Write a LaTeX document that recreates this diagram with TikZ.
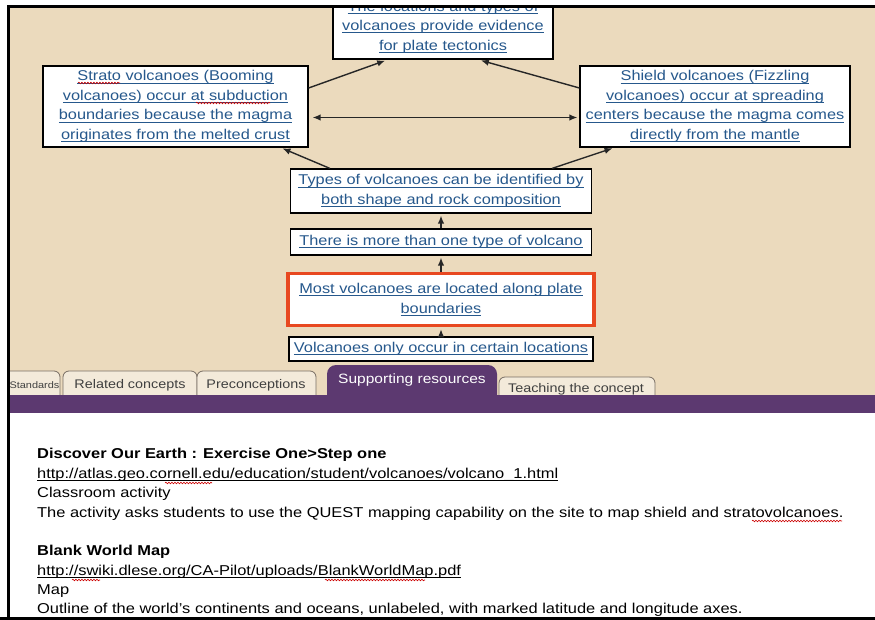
\documentclass[tikz,border=0pt]{standalone}
\usepackage{fontspec}
\setmainfont{Liberation Sans}[FakeStretch=1.15]
\usetikzlibrary{arrows.meta,decorations.pathmorphing}
\definecolor{beige}{RGB}{235,218,189}
\definecolor{purp}{RGB}{92,57,112}
\definecolor{linkblue}{RGB}{38,88,140}
\definecolor{hl}{RGB}{232,72,32}
\definecolor{tabfill}{RGB}{243,234,218}
\definecolor{tabline}{RGB}{120,110,100}
\newcommand{\lnk}[1]{\setbox0\hbox{#1}\rlap{\rule[-2.6pt]{\wd0}{0.9pt}}\box0}
\begin{document}
\begin{tikzpicture}[x=1pt,y=-1pt,
  concept/.style={draw=black, line width=1.2pt, fill=white, text=linkblue, align=center,
    inner sep=0pt, font=\fontsize{14.2}{19.5}\selectfont},
  keynode/.style={concept, draw=hl, line width=3.5pt},
  link/.style={-{Latex[length=8pt,width=6.5pt]}, line width=1.4pt, draw=black!85, shorten >=2pt},
  twoway/.style={{Latex[length=8pt,width=6.5pt]}-{Latex[length=8pt,width=6.5pt]}, line width=1.4pt, draw=black!85, shorten >=2pt, shorten <=4pt},
  tabshape/.style={draw=tabline, line width=0.8pt, fill=tabfill, rounded corners=6pt},
  tabtext/.style={text=black!75, font=\fontsize{12.5}{14}\selectfont, inner sep=0pt},
  res/.style={anchor=base west, inner sep=0pt, font=\fontsize{14.3}{19.5}\selectfont},
  resbold/.style={res, font=\fontsize{14.3}{19.5}\selectfont\bfseries},
  reslink/.style={res, text=black},
  spell/.style={draw=red!80!black, line width=0.6pt, decorate, decoration={snake, amplitude=0.8pt, segment length=3pt}}
]
\useasboundingbox (0,0) rectangle (875,620);
\fill[white] (0,0) rectangle (875,620);
\begin{scope}
\clip (8,7) rectangle (875,618);
\fill[beige] (0,0) rectangle (875,395);

% concept nodes
\node[concept, minimum width=220pt, minimum height=64pt] (n1) at (443,27)
  {\lnk{The locations and types of}\\\lnk{volcanoes provide evidence}\\\lnk{for plate tectonics}};
\node[concept, minimum width=265pt, minimum height=81pt] (n2) at (175.5,106.5)
  {\lnk{Strato volcanoes (Booming}\\\lnk{volcanoes) occur at subduction}\\\lnk{boundaries because the magma}\\\lnk{originates from the melted crust}};
\node[concept, minimum width=270pt, minimum height=81pt] (n3) at (715,106.5)
  {\lnk{Shield volcanoes (Fizzling}\\\lnk{volcanoes) occur at spreading}\\\lnk{centers because the magma comes}\\\lnk{directly from the mantle}};
\node[concept, minimum width=301pt, minimum height=44pt] (n4) at (441,191)
  {\lnk{Types of volcanoes can be identified by}\\\lnk{both shape and rock composition}};
\node[concept, minimum width=301pt, minimum height=26pt] (n5) at (441,242)
  {\lnk{There is more than one type of volcano}};
\node[keynode, minimum width=306pt, minimum height=52pt] (n6) at (441,299.5)
  {\lnk{Most volcanoes are located along plate}\\\lnk{boundaries}};
\node[concept, minimum width=304pt, minimum height=24pt] (n7) at (441,349)
  {\lnk{Volcanoes only occur in certain locations}};

% spell-check marks in concept boxes
\draw[spell] (78,83) -- (120,83);
\draw[spell] (196,103) -- (270,103);

% connectors
\draw[link] (n7.north) -- (n6.south);
\draw[link] (n6.north) -- (n5.south);
\draw[link] (n5.north) -- (n4.south);
\draw[link] ([xshift=40pt]n4.north west) -- ([xshift=-28pt]n2.south east);
\draw[link] ([xshift=-40pt]n4.north east) -- ([xshift=35pt]n3.south west);
\draw[twoway] ([yshift=-11pt]n2.east) -- ([yshift=-11pt]n3.west);
\draw[link, shorten >=3pt] ([yshift=18.5pt]n2.east) -- ([xshift=-55pt]n1.south);
\draw[link, shorten >=3pt] ([yshift=18.5pt]n3.west) -- ([xshift=35pt]n1.south);

% tabs
\draw[tabshape] (-10,396) -- (-10,371) -- (60,371) -- (60,396);
\node[tabtext, font=\fontsize{9.5}{11}\selectfont] (t1) at (34.5,385) {Standards};
\draw[tabshape] (63,396) -- (63,371) -- (197,371) -- (197,396);
\node[tabtext] (t2) at (130,385) {Related concepts};
\draw[tabshape] (197,396) -- (197,371) -- (316,371) -- (316,396);
\node[tabtext] (t3) at (256,385) {Preconceptions};
\draw[tabshape] (499,396) -- (499,377) -- (655,377) -- (655,396);
\node[tabtext] (t5) at (576,389) {Teaching the concept};
\fill[purp] (0,395) rectangle (875,413);
\fill[purp, rounded corners=9pt] (327,396) -- (327,365) -- (497,365) -- (497,396);
\node[tabtext, text=white, font=\fontsize{13.5}{15}\selectfont] (t4) at (412,380) {Supporting resources};
\fill[white] (0,413) rectangle (875,620);

% resources
\node[resbold] (r1) at (37,458) {Discover Our Earth : Exercise One>Step one};
\node[reslink] (r2) at (37,478) {\lnk{http://atlas.geo.cornell.edu/education/student/volcanoes/volcano\_1.html}};
\node[res] (r3) at (37,497) {Classroom activity};
\node[res] (r4) at (37,517) {The activity asks students to use the QUEST mapping capability on the site to map shield and stratovolcanoes.};
\node[resbold] (r5) at (37,555) {Blank World Map};
\node[reslink] (r6) at (37,575) {\lnk{http://swiki.dlese.org/CA-Pilot/uploads/BlankWorldMap.pdf}};
\node[res] (r7) at (37,594) {Map};
\node[res] (r8) at (37,613) {Outline of the world's continents and oceans, unlabeled, with marked latitude and longitude axes.};
\draw[spell] (165,483) -- (212,483);
\draw[spell] (752,521) -- (842,521);
\draw[spell] (72,580) -- (100,580);
\draw[spell] (325,580) -- (425,580);
\end{scope}

% frame
\draw[line width=3pt] (8,620) -- (8,7) -- (875,7);
\draw[line width=3pt] (0,618.5) -- (875,618.5);
\end{tikzpicture}
\end{document}
